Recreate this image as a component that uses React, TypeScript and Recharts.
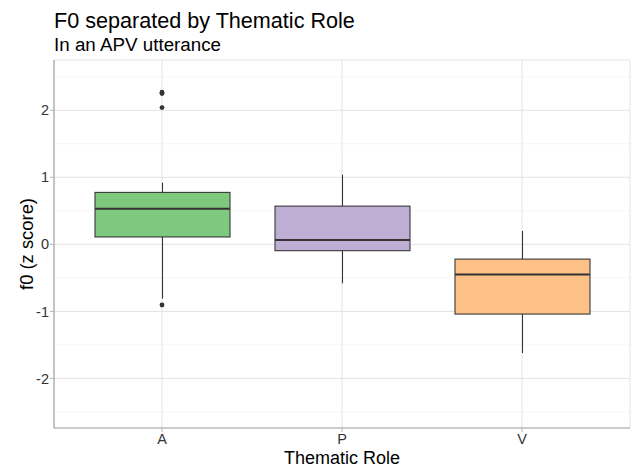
import React from "react";
import {
  ComposedChart,
  Bar,
  Scatter,
  XAxis,
  YAxis,
  CartesianGrid,
  Label,
} from "recharts";

const roles = ["A", "P", "V"];
const lowerWhisker = [-0.81, -0.58, -1.62];
const q1 = [0.11, -0.095, -1.04];
const median = [0.53, 0.065, -0.45];
const q3 = [0.775, 0.57, -0.22];
const upperWhisker = [0.92, 1.04, 0.2];
const boxFills = ["#7FC97F", "#BEAED4", "#FDC086"];

const outlierRoles = ["A", "A", "A", "A"];
const outlierValues = [2.27, 2.25, 2.04, -0.905];

const yTicks = [-2, -1, 0, 1, 2];
const yMinor = [-2.5, -1.5, -0.5, 0.5, 1.5, 2.5];
const yDomain = [-2.74, 2.75];

const FONT = "'Liberation Sans', Arial, Helvetica, sans-serif";

const boxData = roles.map((r, i) => ({
  role: r,
  low: lowerWhisker[i],
  q1: q1[i],
  median: median[i],
  q3: q3[i],
  high: upperWhisker[i],
  fill: boxFills[i],
}));

const outlierData = outlierRoles.map((r, i) => ({ role: r, value: outlierValues[i] }));

const BoxShape = (props: any) => {
  const { x, y, width, height, payload } = props;
  const top = Math.min(y, y + height);
  const bottom = Math.max(y, y + height);
  const ppu = (bottom - top) / (payload.high - payload.low);
  const map = (v: number) => top + (payload.high - v) * ppu;
  const cx = x + width / 2;
  const yq3 = map(payload.q3);
  const yq1 = map(payload.q1);
  const ym = map(payload.median);
  return (
    <g>
      <line x1={cx} x2={cx} y1={top} y2={yq3} stroke="#333333" strokeWidth={1.07} />
      <line x1={cx} x2={cx} y1={yq1} y2={bottom} stroke="#333333" strokeWidth={1.07} />
      <rect
        x={x}
        y={yq3}
        width={width}
        height={yq1 - yq3}
        fill={payload.fill}
        stroke="#333333"
        strokeWidth={1.07}
      />
      <line x1={x} x2={x + width} y1={ym} y2={ym} stroke="#333333" strokeWidth={2.1} />
    </g>
  );
};

const Dot = (props: any) => {
  const { cx, cy } = props;
  return <circle cx={cx} cy={cy} r={2.4} fill="#333333" />;
};

export default function App() {
  return (
    <div style={{ position: "absolute", left: 0, top: 0, width: 633, height: 468, background: "#fff", fontFamily: FONT }}>
      <div
        style={{
          position: "absolute",
          left: 54,
          top: 9.5,
          fontSize: 21.6,
          lineHeight: "21.6px",
          color: "#000",
          whiteSpace: "nowrap",
        }}
      >
        F0 separated by Thematic Role
      </div>
      <div
        style={{
          position: "absolute",
          left: 54,
          top: 36,
          fontSize: 18.8,
          lineHeight: "18.8px",
          color: "#000",
          whiteSpace: "nowrap",
        }}
      >
        In an APV utterance
      </div>
      <ComposedChart
        width={633}
        height={468}
        data={boxData}
        margin={{ top: 60, right: 3, bottom: 0, left: 0 }}
        style={{ position: "absolute", left: 0, top: 0 }}
      >
        <CartesianGrid
          vertical={false}
          horizontalValues={yMinor}
          stroke="#F0F0F0"
          strokeWidth={0.6}
          yAxisId="left"
        />
        <CartesianGrid stroke="#E3E3E3" strokeWidth={1} yAxisId="left" />
        <XAxis
          dataKey="role"
          type="category"
          allowDuplicatedCategory={false}
          padding={{ left: 18, right: 18 }}
          height={40}
          tickSize={4}
          tickMargin={2}
          tick={{ fontSize: 14.5, fill: "#333333", fontFamily: FONT }}
          tickLine={{ stroke: "#B3B3B3" }}
          axisLine={{ stroke: "#A6A6A6", strokeWidth: 1.2 }}
        >
          <Label
            content={(p: any) => {
              const vb = p.viewBox;
              return (
                <text
                  x={vb.x + vb.width / 2}
                  y={464}
                  textAnchor="middle"
                  fontSize={18}
                  fill="#000"
                  fontFamily={FONT}
                >
                  Thematic Role
                </text>
              );
            }}
          />
        </XAxis>
        <XAxis
          xAxisId="top"
          dataKey="role"
          type="category"
          allowDuplicatedCategory={false}
          orientation="top"
          height={0}
          tick={false}
          tickLine={false}
          axisLine={{ stroke: "#A6A6A6", strokeWidth: 1.2 }}
        />
        <YAxis
          yAxisId="left"
          type="number"
          domain={yDomain}
          ticks={yTicks}
          allowDataOverflow
          width={54}
          tickSize={4}
          tickMargin={1}
          tick={{ fontSize: 14.5, fill: "#333333", fontFamily: FONT }}
          tickLine={{ stroke: "#B3B3B3" }}
          axisLine={{ stroke: "#A6A6A6", strokeWidth: 1.2 }}
        >
          <Label
            content={(p: any) => {
              const vb = p.viewBox;
              const cy = vb.y + vb.height / 2;
              return (
                <text
                  x={33}
                  y={cy}
                  transform={`rotate(-90, 33, ${cy})`}
                  textAnchor="middle"
                  fontSize={18.4}
                  fill="#000"
                  fontFamily={FONT}
                >
                  f0 (z score)
                </text>
              );
            }}
          />
        </YAxis>
        <YAxis
          yAxisId="right"
          orientation="right"
          type="number"
          domain={yDomain}
          width={0}
          tick={false}
          tickLine={false}
          axisLine={{ stroke: "#A6A6A6", strokeWidth: 1.2 }}
        />
        <Bar
          yAxisId="left"
          dataKey={(d: any) => [d.low, d.high]}
          barSize={135}
          shape={BoxShape}
          isAnimationActive={false}
        />
        <Scatter
          yAxisId="left"
          data={outlierData}
          dataKey="value"
          shape={Dot}
          isAnimationActive={false}
        />
      </ComposedChart>
    </div>
  );
}
